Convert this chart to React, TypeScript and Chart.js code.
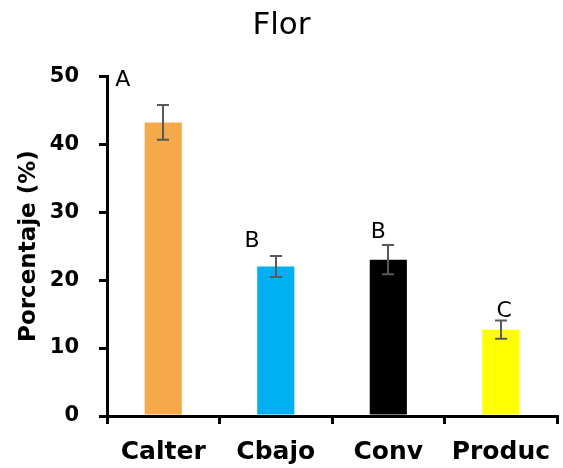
import React, { useEffect, useRef } from "react";
import { Chart, registerables } from "chart.js";

Chart.register(...registerables);

const categories = ["Calter", "Cbajo", "Conv", "Produc"];
const means = [43.2, 22.0, 23.0, 12.7];
const errors = [2.55, 1.55, 2.15, 1.35];
const letters = ["A", "B", "B", "C"];
const letterValues = [49.4, 25.7, 27.1, 15.4];
const letterOffsets = [-0.36, -0.21, -0.09, 0.03];
const barColors = ["#F5A94B", "#00B0F0", "#000000", "#FFFF00"];

const annotations = {
  id: "annotations",
  afterDatasetsDraw(chart: any) {
    const ctx = chart.ctx;
    const xs = chart.scales.x;
    const ys = chart.scales.y;
    const meta = chart.getDatasetMeta(0);
    ctx.save();
    ctx.strokeStyle = "#595959";
    ctx.lineWidth = 2;
    meta.data.forEach((bar: any, i: number) => {
      const cx = Math.round(bar.x);
      const top = ys.getPixelForValue(means[i] + errors[i]);
      const bot = ys.getPixelForValue(means[i] - errors[i]);
      ctx.beginPath();
      ctx.moveTo(cx, top);
      ctx.lineTo(cx, bot);
      ctx.moveTo(cx - 6, top);
      ctx.lineTo(cx + 6, top);
      ctx.moveTo(cx - 6, bot);
      ctx.lineTo(cx + 6, bot);
      ctx.stroke();
    });
    ctx.fillStyle = "#000";
    ctx.font = "22px 'DejaVu Sans'";
    ctx.textAlign = "center";
    ctx.textBaseline = "middle";
    letters.forEach((l, i) => {
      const px = xs.getPixelForValue(i + letterOffsets[i]);
      const py = ys.getPixelForValue(letterValues[i]);
      ctx.fillText(l, px, py);
    });
    ctx.restore();
  },
};

export default function App() {
  const ref = useRef<HTMLCanvasElement | null>(null);
  useEffect(() => {
    if (!ref.current) return;
    const chart = new Chart(ref.current, {
      type: "bar",
      data: {
        labels: categories,
        datasets: [
          {
            data: means,
            backgroundColor: barColors,
            borderWidth: 0,
            categoryPercentage: 1,
            barPercentage: 0.33,
          },
        ],
      },
      options: {
        responsive: false,
        animation: false,
        layout: { padding: 0 },
        plugins: {
          legend: { display: false },
          tooltip: { enabled: false },
          title: {
            display: true,
            text: "Flor",
            color: "#000",
            font: { family: "'DejaVu Sans'", size: 31, weight: "normal" },
            padding: { top: 7, bottom: 32 },
          },
        },
        scales: {
          x: {
            afterFit: (s: any) => {
              s.height = 52;
            },
            grid: {
              display: true,
              drawOnChartArea: false,
              drawTicks: true,
              tickLength: 8,
              color: "#000",
              lineWidth: 3,
              offset: true,
            },
            border: { display: true, color: "#000", width: 3 },
            ticks: {
              color: "#000",
              padding: 13,
              font: { family: "'DejaVu Sans'", size: 25, weight: "bold" },
            },
          },
          y: {
            min: 0,
            max: 50,
            afterFit: (s: any) => {
              s.width = 107;
            },
            grid: {
              display: true,
              drawOnChartArea: false,
              drawTicks: true,
              tickLength: 8,
              color: "#000",
              lineWidth: 3,
            },
            border: { display: true, color: "#000", width: 3 },
            ticks: {
              stepSize: 10,
              color: "#000",
              padding: 20,
              font: { family: "'DejaVu Sans'", size: 21, weight: "bold" },
            },
            title: {
              display: true,
              text: "Porcentaje (%)",
              color: "#000",
              font: { family: "'DejaVu Sans'", size: 23, weight: "bold" },
              padding: { top: 15, bottom: 0 },
            },
          },
        },
      },
      plugins: [annotations],
    });
    return () => chart.destroy();
  }, []);
  return (
    <div style={{ position: "absolute", left: 0, top: 0, width: 563, height: 468, background: "#fff" }}>
      <canvas ref={ref} width={563} height={468} />
    </div>
  );
}
